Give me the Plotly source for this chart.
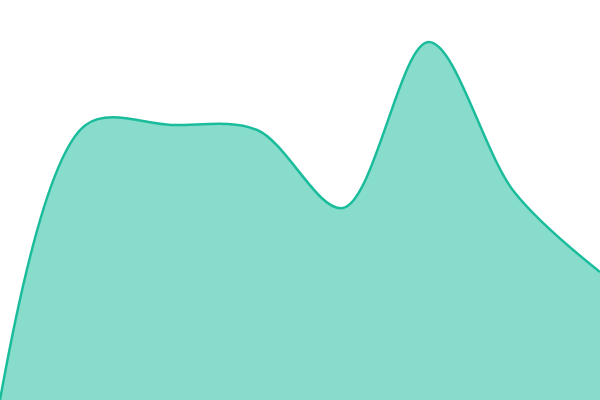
import plotly.graph_objs as go

# sample positions and values (0 = bottom, 400 = top)
steps = [0, 1, 2, 3, 4, 5, 6, 7]
values = [0, 275, 275, 270, 192, 358, 208, 128]

data = [go.Scatter(x=steps,
                   y=values,
                   mode='lines',
                   line=dict(color='#1abc9c', width=2.5, shape='spline', smoothing=0.95),
                   fill='tozeroy',
                   fillcolor='rgba(26,188,156,0.52)',
                   cliponaxis=False,
                   hoverinfo='skip')]

layout = go.Layout(width=600, height=400,
                   margin=dict(l=0, r=0, t=0, b=0),
                   paper_bgcolor='white',
                   plot_bgcolor='white',
                   showlegend=False,
                   xaxis=dict(visible=False, range=[0, 7]),
                   yaxis=dict(visible=False, range=[0, 400]))

fig = go.Figure(data=data, layout=layout)
# drop the page margin so the chart fills the whole window, no modebar
fig.write_html('out.html', config={'displayModeBar': False},
               post_script="document.body.style.margin='0';")
